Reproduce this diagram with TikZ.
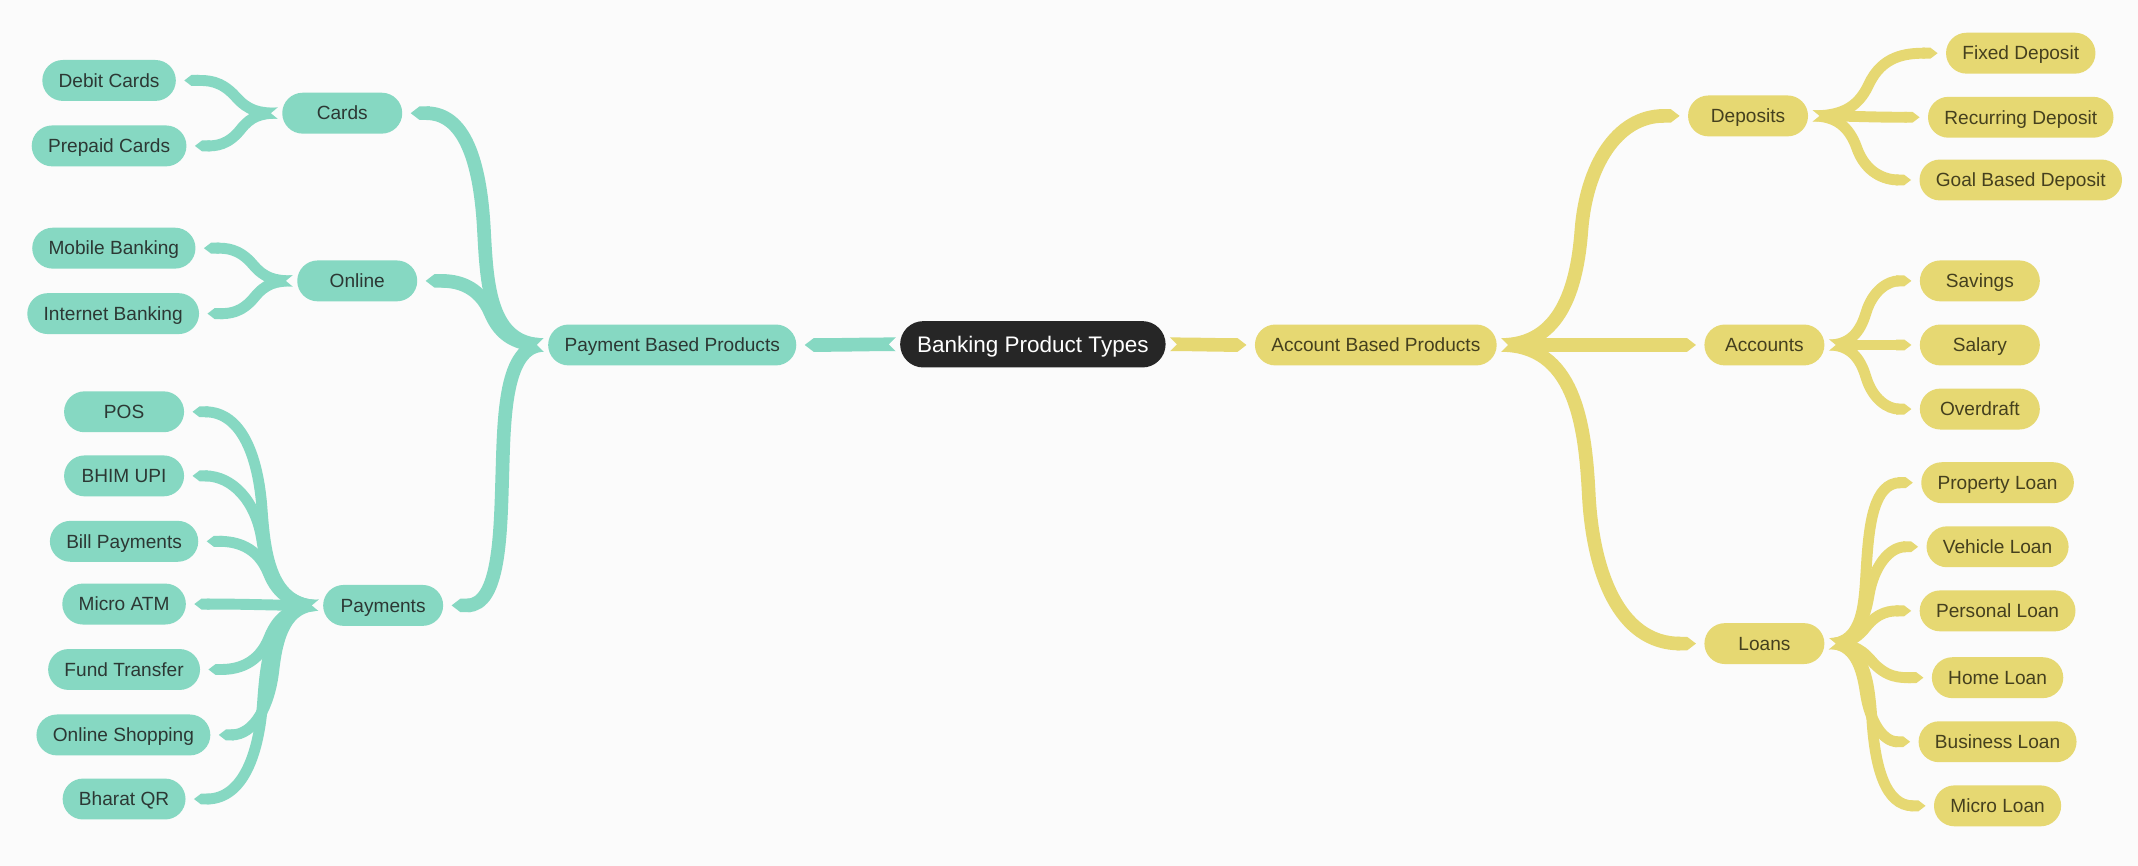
\documentclass[tikz,border=0pt]{standalone}
\usepackage{fontspec}
\setmainfont{Liberation Sans}
\usetikzlibrary{arrows.meta,calc}
\definecolor{bgc}{HTML}{FBFBFB}
\definecolor{tealfill}{HTML}{86D8C2}
\definecolor{yelfill}{HTML}{E6D872}
\definecolor{tealtxt}{HTML}{2C3834}
\definecolor{yeltxt}{HTML}{45401E}
\definecolor{rootc}{HTML}{262626}
\pgfdeclarelayer{bgl}\pgfdeclarelayer{ribl}\pgfdeclarelayer{notchl}
\pgfsetlayers{bgl,ribl,notchl,main}
\tikzset{
  pill/.style={rounded corners=15pt, minimum height=30pt, minimum width=88pt,
    inner xsep=12pt, inner ysep=0pt, text height=12.5pt, text depth=2.5pt,
    font=\fontsize{14}{16}\selectfont},
  tnode/.style={pill, fill=tealfill, text=tealtxt},
  ynode/.style={pill, fill=yelfill, text=yeltxt},
  rootnode/.style={rounded corners=17pt, minimum height=34pt, inner xsep=12.5pt,
    inner ysep=0pt, text height=14.8pt, text depth=3pt,
    fill=rootc, text=white, font=\fontsize{16.5}{19}\selectfont},
  ribbon/.style={line width=8pt, -{Triangle Cap[cap angle=75]}},
  wide/.style={line width=10pt},
  tealrib/.style={draw=tealfill},
  yelrib/.style={draw=yelfill},
}
% generic ribbon between two points: two smooth cubics joined at a mid point
\newcommand\rib[3][]{%
  \draw[ribbon,#1] let \p1=(#2), \p2=(#3),
    \n{hx}={\x2-\x1}, \n{hy}={\y2-\y1},
    \n{f}={40/(40+abs(\n{hy}))},
    \n{tx}={0.5*\n{f}*\n{hx}},
    \n{tn}={veclen(\n{tx},\n{hy})},
    \n{ux}={\n{tx}/\n{tn}}, \n{uy}={\n{hy}/\n{tn}},
    \n{da}={veclen(0.45*\n{hx},0.5*\n{hy})},
    \n{db}={veclen(0.55*\n{hx},0.5*\n{hy})},
    \n{s}={\n{hx}/abs(\n{hx})},
    \n{xm}={\x1+0.45*\n{hx}}, \n{ym}={\y1+0.5*\n{hy}},
    \n{ca}={min(0.42*\n{da},0.95*abs(0.45*\n{hx}))},
    \n{cb}={min(0.42*\n{db},0.95*abs(0.55*\n{hx}))} in
    (\p1) .. controls ({\x1+\n{s}*\n{ca}},\y1)
      and ({\n{xm}-0.42*\n{da}*\n{ux}},{\n{ym}-0.42*\n{da}*\n{uy}}) .. (\n{xm},\n{ym})
    .. controls ({\n{xm}+0.42*\n{db}*\n{ux}},{\n{ym}+0.42*\n{db}*\n{uy}})
      and ({\x2-\n{s}*\n{cb}},\y2) .. (\p2);}
\newcommand\ribR[3][]{\rib[yelrib,#1]{$(#2.east)+(3,0)$}{$(#3.west)+(-6,0)$}}
\newcommand\ribL[3][]{\rib[tealrib,#1]{$(#2.west)+(-3,0)$}{$(#3.east)+(6,0)$}}
\newcommand\notchR[2]{\fill[bgc] ($(#1.east)+(2,-#2)$) -- ($(#1.east)+(8,0)$) -- ($(#1.east)+(2,#2)$) -- cycle;}
\newcommand\notchL[2]{\fill[bgc] ($(#1.west)+(-2,-#2)$) -- ($(#1.west)+(-8,0)$) -- ($(#1.west)+(-2,#2)$) -- cycle;}

\begin{document}
\begin{tikzpicture}[x=1pt,y=-1pt]
\useasboundingbox (0,0) rectangle (1568,635);
\begin{pgfonlayer}{bgl}
  \fill[bgc] (0,0) rectangle (1568,635);
\end{pgfonlayer}

% ---- nodes ----
\node[rootnode] (root) at (757.5,252.5) {Banking Product Types};
\node[tnode] (pbp) at (493,253) {Payment Based Products};
\node[ynode] (abp) at (1009,253) {Account Based Products};

\node[tnode] (cards) at (251,83) {Cards};
\node[tnode] (debit) at (80,59) {Debit Cards};
\node[tnode] (prepaid) at (80,107) {Prepaid Cards};

\node[tnode] (online) at (262,206) {Online};
\node[tnode] (mobile) at (83.5,182) {Mobile Banking};
\node[tnode] (internet) at (83,230) {Internet Banking};

\node[tnode] (payments) at (281,444) {Payments};
\node[tnode] (pos) at (91,302) {POS};
\node[tnode] (bhim) at (91,349) {BHIM UPI};
\node[tnode] (bill) at (91,397) {Bill Payments};
\node[tnode] (matm) at (91,443) {Micro ATM};
\node[tnode] (fund) at (91,491) {Fund Transfer};
\node[tnode] (shop) at (90.5,539) {Online Shopping};
\node[tnode] (bqr) at (91,586) {Bharat QR};

\node[ynode] (deposits) at (1282,85) {Deposits};
\node[ynode] (fixed) at (1482,39) {Fixed Deposit};
\node[ynode] (recurring) at (1482,86) {Recurring Deposit};
\node[ynode] (goal) at (1482,132) {Goal Based Deposit};

\node[ynode] (accounts) at (1294,253) {Accounts};
\node[ynode] (savings) at (1452,206) {Savings};
\node[ynode] (salary) at (1452,253) {Salary};
\node[ynode] (overdraft) at (1452,300) {Overdraft};

\node[ynode] (loans) at (1294,472) {Loans};
\node[ynode] (property) at (1465,354) {Property Loan};
\node[ynode] (vehicle) at (1465,401) {Vehicle Loan};
\node[ynode] (personal) at (1465,448) {Personal Loan};
\node[ynode] (home) at (1465,497) {Home Loan};
\node[ynode] (business) at (1465,544) {Business Loan};
\node[ynode] (microloan) at (1465,591) {Micro Loan};

% ---- ribbons ----
\begin{pgfonlayer}{ribl}
  \ribL[wide]{root}{pbp}
  \ribR[wide]{root}{abp}
  \ribL[wide]{pbp}{cards}
  \ribL[wide]{pbp}{online}
  \ribL[wide]{pbp}{payments}
  \ribL{cards}{debit}
  \ribL{cards}{prepaid}
  \ribL{online}{mobile}
  \ribL{online}{internet}
  \foreach \c in {pos,bhim,bill,matm,fund,shop,bqr} {\ribL{payments}{\c}}
  \ribR[wide]{abp}{deposits}
  \ribR[wide]{abp}{accounts}
  \ribR[wide]{abp}{loans}
  \foreach \c in {fixed,recurring,goal} {\ribR{deposits}{\c}}
  \foreach \c in {savings,salary,overdraft} {\ribR{accounts}{\c}}
  \foreach \c in {property,vehicle,personal,home,business,microloan} {\ribR{loans}{\c}}
\end{pgfonlayer}
\begin{pgfonlayer}{notchl}
  \notchL{root}{6}
  \notchR{root}{6}
  \notchL{pbp}{6}
  \notchR{abp}{6}
  \notchL{cards}{5}
  \notchL{online}{5}
  \notchL{payments}{5}
  \notchR{deposits}{5}
  \notchR{accounts}{5}
  \notchR{loans}{5}
\end{pgfonlayer}
\end{tikzpicture}
\end{document}
